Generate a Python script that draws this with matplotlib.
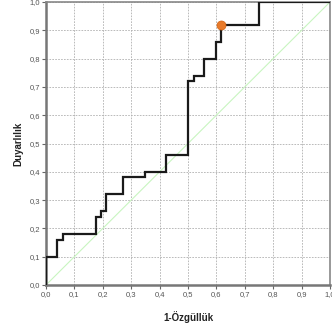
import matplotlib
matplotlib.use("Agg")
import matplotlib.pyplot as plt

# ROC step curve vertices (1-specificity, sensitivity)
fpr = [0.0, 0.0, 0.04, 0.04, 0.06, 0.06, 0.175, 0.175, 0.195, 0.195, 0.213, 0.213,
       0.27, 0.27, 0.35, 0.35, 0.423, 0.423, 0.50, 0.50, 0.52, 0.52, 0.557, 0.557,
       0.597, 0.597, 0.616, 0.616, 0.75, 0.75, 1.0]
tpr = [0.0, 0.10, 0.10, 0.16, 0.16, 0.18, 0.18, 0.24, 0.24, 0.26, 0.26, 0.32,
       0.32, 0.38, 0.38, 0.40, 0.40, 0.46, 0.46, 0.72, 0.72, 0.74, 0.74, 0.80,
       0.80, 0.86, 0.86, 0.92, 0.92, 1.0, 1.0]
cut_point = (0.616, 0.92)
ticks = [0.0, 0.1, 0.2, 0.3, 0.4, 0.5, 0.6, 0.7, 0.8, 0.9, 1.0]
tick_labels = ["0,0", "0,1", "0,2", "0,3", "0,4", "0,5", "0,6", "0,7", "0,8", "0,9", "1,0"]

plt.rcParams['font.family'] = ['Liberation Sans', 'DejaVu Sans']

fig = plt.figure(figsize=(3.32, 3.29), dpi=100)
ax = fig.add_axes([46/332, 44/329, 284/332, 283/329])

ax.plot([0, 1], [0, 1], color="#c8f5c0", lw=0.8, zorder=2)
ax.plot(fpr, tpr, color="#1a1a1a", lw=1.6, zorder=3, solid_joinstyle="miter")
ax.plot([cut_point[0]], [cut_point[1]], 'o', color="#e87a2a", markersize=6.5, zorder=4,
        markeredgecolor="#d06010", markeredgewidth=0.5)

ax.set_xlim(0, 1)
ax.set_ylim(0, 1)
ax.set_xticks(ticks)
ax.set_yticks(ticks)
ax.set_xticklabels(tick_labels)
ax.set_yticklabels(tick_labels)
ax.tick_params(axis='both', labelsize=5.5, labelcolor="#555555", color="#666666",
               length=3, width=0.8, pad=1.5, direction='out')
ax.grid(True, color="#b0b0b0", linestyle=(0, (2, 1.5)), linewidth=0.6)
ax.set_axisbelow(True)

for side in ['left', 'bottom']:
    ax.spines[side].set_color("#777777")
    ax.spines[side].set_linewidth(1.8)
for side in ['top', 'right']:
    ax.spines[side].set_color("#888888")
    ax.spines[side].set_linewidth(1.2)

ax.set_xlabel("1-Özgüllük", fontsize=7, fontweight='bold', color="#222222", labelpad=9)
ax.set_ylabel("Duyarlılık", fontsize=7, fontweight='bold', color="#222222", labelpad=4)

fig.savefig("out.png", dpi=100)
